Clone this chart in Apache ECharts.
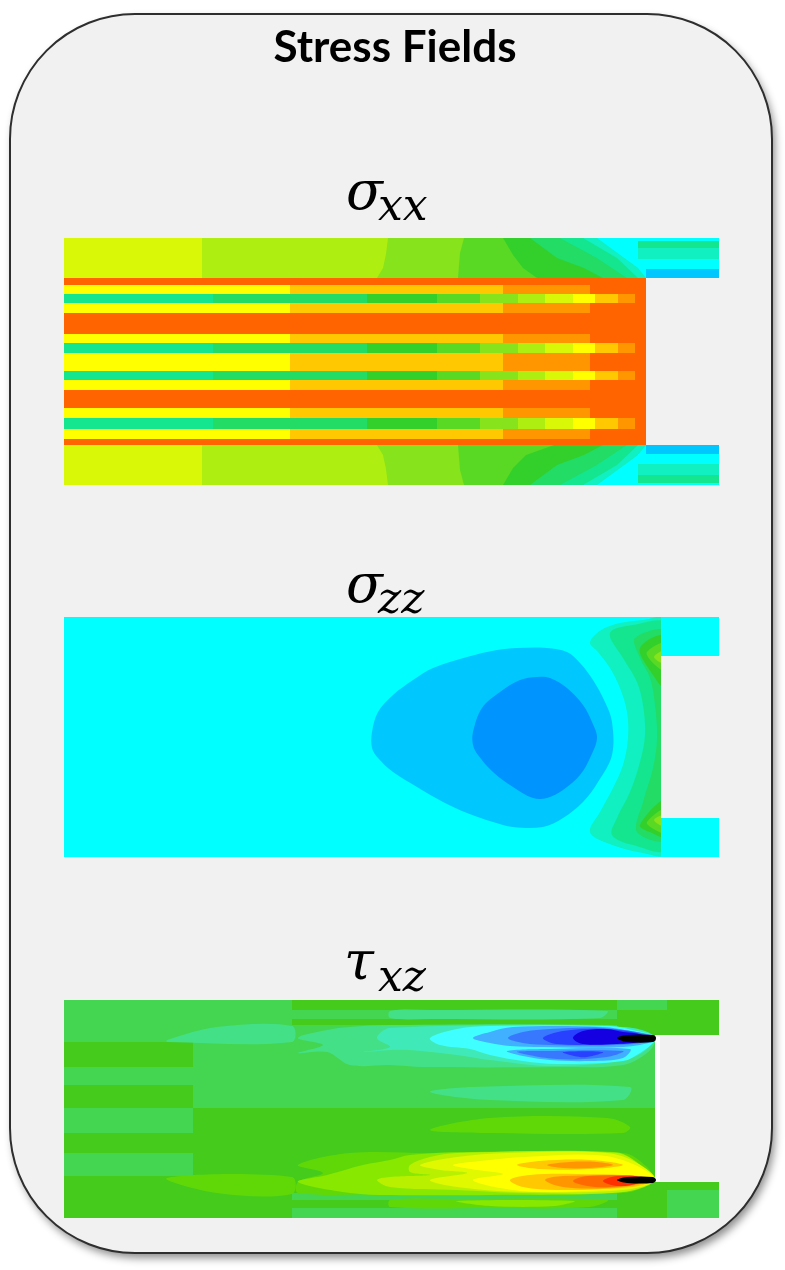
<!DOCTYPE html>
<html><head><meta charset="utf-8">
<script src="https://cdn.jsdelivr.net/npm/echarts@6/dist/echarts.min.js"></script>
<style>html,body{margin:0;padding:0;background:#fff}#c{width:785px;height:1270px}</style></head>
<body><div id="c"></div>
<script>
var chartTitle = 'Stress Fields';
var fieldSymbols = ['σ', 'σ', 'τ'];
var fieldSubscripts = ['xx', 'zz', 'xz'];

// contour level -> colour
var normalColors = ['#000000','#0000e6','#2a4cff','#0094ff','#00c8ff','#00ffff','#10f0c0','#14e690','#22dc66','#33d02c','#5ad924','#86e31c','#aeee10','#d8f808','#ffff00','#ffc800','#ff9600','#ff6400','#ff3000'];
var shearColors = ['#000000','#1400e0','#2840ff','#3878ff','#40b0ff','#40ffff','#40eab8','#44e088','#44d650','#44cb1c','#60d808','#88e800','#b8f000','#e0f800','#ffff00','#ffc800','#ff9600','#ff6a00','#ff3000','#ffffff'];

// ---------- sigma_xx: field extent and laminated rows
var xxExtent = [655, 247];
var xxRowEdges = [40,47,56,65,75,96,105,115,133,142,152,170,180,191,201,207];
var xxRowKinds = ['R','Y','T','Y','R','Y','T','Y','T','Y','R','Y','T','Y','R'];
var xxRedBreaks = [0,582];
var xxRedLevels = [17];
var xxYellowBreaks = [0,226,439,526,582];
var xxYellowLevels = [14,15,16,17];
var xxTealBreaks = [0,149,303,373,416,454,481,509,531,554,571,582];
var xxTealLevels = [7,8,9,10,11,12,13,14,15,16,17];
var xxUpperBlock = [
 [13,[[0,0],[655,0],[655,40],[0,40]]],
 [12,[[138,0],[655,0],[655,40],[138,40]]],
 [11,[[324,0],[655,0],[655,40],[313,40],[319,30],[322,16]]],
 [10,[[400,0],[655,0],[655,40],[394,40],[396,15]]],
 [9,[[439,0],[655,0],[655,40],[473,40],[459,30],[449,17]]],
 [8,[[466,0],[655,0],[655,40],[539,40],[520,30],[493,20]]],
 [7,[[496,0],[655,0],[655,40],[563,40],[533,20]]],
 [6,[[519,0],[655,0],[655,40],[574,40],[553,20]]],
 [5,[[533,0],[655,0],[655,40],[582,40],[574,30]]],
 [7,[[574,3],[655,3],[655,10],[574,10]]],
 [6,[[574,10],[655,10],[655,21],[574,21]]],
 [5,[[574,21],[655,21],[655,30],[574,30]]],
 [4,[[582,31],[655,31],[655,40],[582,40]]]
];
var xxLowerBlock = [
 [13,[[0,207],[655,207],[655,247],[0,247]]],
 [12,[[138,207],[655,207],[655,247],[138,247]]],
 [11,[[313,207],[655,207],[655,247],[324,247],[322,231],[319,217]]],
 [10,[[394,207],[655,207],[655,247],[400,247],[396,232]]],
 [9,[[490,207],[655,207],[655,247],[439,247],[449,230],[462,217]]],
 [8,[[539,207],[655,207],[655,247],[466,247],[493,227],[520,217]]],
 [7,[[563,207],[655,207],[655,247],[496,247],[533,227]]],
 [6,[[574,207],[655,207],[655,247],[519,247],[553,227]]],
 [5,[[582,207],[655,207],[655,247],[533,247],[574,217]]],
 [7,[[574,237],[655,237],[655,245],[574,245]]],
 [6,[[574,226],[655,226],[655,237],[574,237]]],
 [5,[[574,216],[655,216],[655,226],[574,226]]],
 [4,[[582,207],[655,207],[655,216],[582,216]]]
];

// ---------- sigma_zz
var zzExtent = [655, 240];
var zzBodyEnd = 597;
var zzBase = [
 [5,[[0,0],[655,0],[655,39],[597,39],[597,201],[655,201],[655,240],[0,240]]]
];
var zzContours = [
 [4,[[308,115],[314,95],[329,78],[349,63],[369,51],[403,40],[433,33],[453,31],[483,31],[503,35],[516,46],[529,63],[541,85],[548,105],[548,138],[534,165],[519,185],[499,201],[479,210],[449,210],[429,205],[403,196],[379,185],[353,170],[329,155],[314,141],[308,131]]],
 [3,[[409,115],[418,91],[436,75],[456,63],[473,60],[486,61],[503,71],[519,88],[528,105],[533,121],[526,141],[516,158],[499,173],[483,181],[469,181],[449,170],[429,155],[414,138],[409,128]]]
];
var zzCrescent = [
 [6,[[526,25],[543,10],[579,3],[602,3],[602,236],[579,236],[543,226],[526,215],[536,195],[549,171],[559,148],[564,121],[563,95],[556,71],[546,51],[534,35]]],
 [7,[[546,16],[569,8],[602,8],[602,231],[569,228],[548,218],[553,201],[566,175],[576,145],[581,118],[579,88],[573,65],[559,41]]],
 [8,[[571,21],[602,16],[602,221],[573,215],[579,185],[589,151],[593,121],[591,88],[586,61],[576,41]]],
 [9,[[576,31],[602,19],[602,72],[589,58]]],
 [9,[[576,208],[602,182],[602,220],[588,216]]],
 [10,[[583,35],[602,26],[602,54],[588,45]]],
 [10,[[583,205],[602,192],[602,216],[588,211]]],
 [11,[[590,40],[602,33],[602,47]]],
 [11,[[590,203],[602,198],[602,210]]]
];

// ---------- tau_xz
var xzExtent = [655, 218];
var xzBodyEnd = 593;
var xzBase = [
 [9,[[0,0],[655,0],[655,35],[591,35],[591,182],[655,182],[655,218],[0,218]]],
 [8,[[0,0],[553,0],[553,42],[0,42]]],
 [8,[[0,67],[129,67],[129,85],[0,85]]],
 [8,[[0,108],[129,108],[129,133],[0,133]]],
 [8,[[0,153],[129,153],[129,176],[0,176]]],
 [8,[[129,42],[591,42],[591,108],[129,108]]],
 [9,[[228,0],[553,0],[553,10],[228,10]]],
 [9,[[228,19],[553,19],[553,25],[228,25]]],
 [8,[[228,193],[553,193],[553,200],[228,200]]],
 [8,[[228,208],[553,208],[553,218],[228,218]]],
 [8,[[553,0],[603,0],[603,10],[553,10]]],
 [8,[[603,190],[655,190],[655,218],[603,218]]],
 [19,[[591,35],[596,35],[596,182],[591,182]]]
];
var xzUpperLobes = [
 [7,[[326,11],[366,10],[543,11],[536,18],[366,19],[326,18]]],
 [7,[[103,40],[153,27],[228,26],[228,42],[103,42]]],
 [7,[[234,38],[263,30],[286,27],[326,25],[543,25],[566,30],[589,35],[591,42],[583,53],[559,65],[493,67],[359,67],[326,65],[286,65],[263,52],[234,53],[259,45]]],
 [6,[[313,38],[326,28],[559,27],[590,37],[570,57],[493,66],[426,60],[393,55],[346,50],[326,50],[299,52],[326,47]]],
 [5,[[366,38],[393,29],[426,26],[546,26],[573,31],[591,36],[591,41],[576,53],[559,61],[493,64],[459,61],[426,55],[406,49],[376,45]]],
 [4,[[409,38],[426,32],[449,27],[539,27],[566,31],[591,36],[591,41],[559,47],[479,47],[446,46],[426,43]]],
 [4,[[443,51],[486,49],[566,49],[559,58],[526,61],[486,60],[459,56]]],
 [3,[[444,38],[459,32],[486,29],[539,28],[585,35],[585,41],[553,45],[486,45],[459,43]]],
 [3,[[453,52],[476,51],[559,51],[543,57],[493,59]]],
 [2,[[479,38],[499,31],[543,29],[580,35],[580,41],[546,44],[493,44]]],
 [2,[[499,52],[539,52],[523,57],[510,56]]],
 [1,[[509,38],[519,31],[543,29],[559,32],[578,35],[578,41],[553,44],[519,44]]],
 [0,[[553,38],[563,35],[589,35],[592,38],[589,42],[563,42]]],
 [7,[[366,92],[409,87],[566,87],[559,100],[426,100]]]
];
var xzLowerLobes = [
 [10,[[366,130],[426,118],[543,118],[566,127],[559,133],[426,133]]],
 [10,[[103,178],[228,177],[228,194],[153,193]]],
 [10,[[234,165],[286,153],[366,153],[559,153],[583,167],[591,180],[591,182],[559,193],[326,194],[234,193],[234,182],[259,173]]],
 [11,[[234,182],[263,175],[299,165],[326,160],[346,155],[406,152],[550,152],[570,160],[585,175],[591,180],[559,192],[426,195],[326,195],[286,193]]],
 [12,[[346,165],[366,157],[393,153],[553,153],[576,165],[591,180],[559,192],[459,193],[393,190],[326,187],[313,180],[326,177],[366,175],[346,172]]],
 [13,[[356,165],[393,157],[443,153],[543,153],[573,163],[591,180],[559,190],[459,192],[393,187],[366,180],[403,173],[376,170]]],
 [14,[[389,165],[426,160],[459,157],[533,155],[569,164],[591,180],[559,188],[479,192],[436,188],[409,180],[439,174],[413,170]]],
 [15,[[453,165],[476,161],[526,160],[559,165],[526,169],[476,169]]],
 [15,[[446,180],[466,175],[513,174],[585,177],[585,183],[559,188],[493,190],[459,187]]],
 [16,[[483,165],[506,162],[533,162],[549,165],[526,168],[499,168]]],
 [16,[[481,180],[499,176],[580,177],[580,183],[543,188],[499,187]]],
 [17,[[509,181],[523,176],[575,177],[575,183],[546,187],[523,186]]],
 [18,[[539,181],[553,176],[575,177],[575,183],[553,186]]],
 [0,[[553,180],[563,177],[589,177],[592,180],[589,183],[563,183]]],
 [10,[[326,200],[393,199],[543,200],[526,207],[426,208],[326,207]]],
 [11,[[393,201],[510,201],[490,206],[426,206]]]
];

function rowsToPatches(edges, kinds, profiles) {
  var out = [];
  kinds.forEach(function (k, r) {
    var p = profiles[k];
    p.levels.forEach(function (lv, i) {
      var a = p.breaks[i], b = p.breaks[i + 1], y0 = edges[r], y1 = edges[r + 1];
      out.push([lv, [[a, y0], [b, y0], [b, y1], [a, y1]]]);
    });
  });
  return out;
}
var xxRows = rowsToPatches(xxRowEdges, xxRowKinds, {
  R: {breaks: xxRedBreaks, levels: xxRedLevels},
  Y: {breaks: xxYellowBreaks, levels: xxYellowLevels},
  T: {breaks: xxTealBreaks, levels: xxTealLevels}
});

var panels = [
  {sharp: xxUpperBlock.concat(xxLowerBlock, xxRows), curved: [], colors: normalColors, extent: xxExtent, top: 238, end: 655},
  {sharp: zzBase, curved: zzContours.concat(zzCrescent), colors: normalColors, extent: zzExtent, top: 617, end: zzBodyEnd},
  {sharp: xzBase, curved: xzUpperLobes.concat(xzLowerLobes), colors: shearColors, extent: xzExtent, top: 1000, end: xzBodyEnd}
];

function labelTexts() {
  var out = [];
  var symY = [195, 588, 965], subY = [209, 602, 980];
  fieldSymbols.forEach(function (s, i) {
    out.push({type: 'text', z: 10, x: i === 2 ? 344 : 346, y: symY[i], silent: true,
      style: {text: s, fill: '#000', align: 'left', verticalAlign: 'middle', font: 'italic 54px "DejaVu Serif"'}});
    out.push({type: 'text', z: 10, x: 378, y: subY[i], silent: true,
      style: {text: fieldSubscripts[i], fill: '#000', align: 'left', verticalAlign: 'middle', font: 'italic 44px "DejaVu Serif"'}});
  });
  return out;
}

var panelShape = {x: 10, y: 14, width: 762, height: 1239, r: 125};
var option = {
  animation: false,
  backgroundColor: '#ffffff',
  grid: panels.map(function (p) { return {left: 64, top: p.top, width: p.extent[0], height: p.extent[1], show: false}; }),
  xAxis: panels.map(function (p, i) { return {type: 'value', gridIndex: i, min: 0, max: p.extent[0], show: false}; }),
  yAxis: panels.map(function (p, i) { return {type: 'value', gridIndex: i, min: 0, max: p.extent[1], inverse: true, show: false}; }),
  series: panels.map(function (p, i) {
    var patches = p.sharp.concat(p.curved), nSharp = p.sharp.length;
    return {
      type: 'custom', xAxisIndex: i, yAxisIndex: i, silent: true, clip: true, z: 5,
      progressive: 0,
      data: patches.map(function (q, k) { return [k, q[1][0][0], q[1][0][1]]; }),
      encode: {x: 1, y: 2},
      renderItem: function (params, api) {
        var k = api.value(0), q = patches[k];
        var el = {type: 'polygon', shape: {points: q[1].map(function (pt) { return api.coord(pt); }), smooth: k < nSharp ? 0 : 0.35},
                style: {fill: p.colors[q[0]], stroke: null}};
        if (k >= nSharp) {
          var a = api.coord([0, 0]), b = api.coord([p.end, p.extent[1]]);
          el.clipPath = {type: 'rect', shape: {x: a[0], y: a[1], width: b[0] - a[0], height: b[1] - a[1]}};
        }
        return el;
      }
    };
  }),
  graphic: {elements: [
    {type: 'rect', z: 0, silent: true, shape: panelShape,
     style: {fill: '#f1f1f1', shadowColor: 'rgba(0,0,0,0.45)', shadowBlur: 8, shadowOffsetX: 3, shadowOffsetY: 5}},
    {type: 'rect', z: 1, silent: true, shape: panelShape,
     style: {fill: '#f1f1f1', stroke: '#2e2e2e', lineWidth: 2}},
    {type: 'text', z: 10, x: 395, y: 48, silent: true,
     style: {text: chartTitle, fill: '#000', align: 'center', verticalAlign: 'middle', font: 'bold 44px Lato'}}
  ].concat(labelTexts())}
};
var chart = echarts.init(document.getElementById('c'), null, {renderer: 'canvas', width: 785, height: 1270});
chart.setOption(option);
</script></body></html>
